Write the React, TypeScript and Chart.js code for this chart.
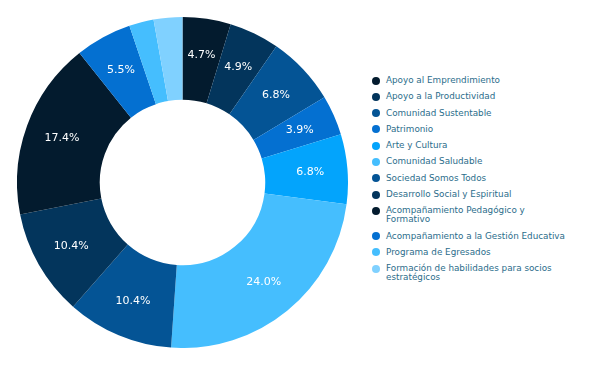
import React, { useEffect, useRef } from "react";
import { Chart, registerables } from "chart.js";

Chart.register(...registerables);

const categories: string[] = [
  "Apoyo al Emprendimiento",
  "Apoyo a la Productividad",
  "Comunidad Sustentable",
  "Patrimonio",
  "Arte y Cultura",
  "Comunidad Saludable",
  "Sociedad Somos Todos",
  "Desarrollo Social y Espiritual",
  "Acompañamiento Pedagógico y\nFormativo",
  "Acompañamiento a la Gestión Educativa",
  "Programa de Egresados",
  "Formación de habilidades para socios\nestratégicos",
];

const values: number[] = [4.7, 4.9, 6.8, 3.9, 6.8, 24.0, 10.4, 10.4, 17.4, 5.5, 2.4, 2.8];

const colors: string[] = [
  "#031b2e",
  "#03355c",
  "#045495",
  "#0470d1",
  "#03a4fc",
  "#45befe",
  "#045495",
  "#03355c",
  "#031b2e",
  "#0470d1",
  "#45befe",
  "#80d1ff",
];

const FONT = "'DejaVu Sans', Verdana, sans-serif";

const sliceLabels = {
  id: "sliceLabels",
  afterDatasetsDraw(chart: any) {
    const ctx = chart.ctx as CanvasRenderingContext2D;
    const meta = chart.getDatasetMeta(0);
    const data = chart.data.datasets[0].data as number[];
    const total = data.reduce((a, b) => a + b, 0);
    ctx.save();
    ctx.font = `11px ${FONT}`;
    ctx.fillStyle = "#ffffff";
    ctx.textAlign = "center";
    ctx.textBaseline = "middle";
    meta.data.forEach((arc: any, i: number) => {
      const p = arc.getProps(["x", "y", "startAngle", "endAngle", "innerRadius", "outerRadius"], true);
      const pct = (data[i] / total) * 100;
      if (pct < 3) return;
      const mid = (p.startAngle + p.endAngle) / 2;
      const r = p.innerRadius + (p.outerRadius - p.innerRadius) * 0.55;
      ctx.fillText(pct.toFixed(1) + "%", p.x + Math.cos(mid) * r, p.y + Math.sin(mid) * r);
    });
    ctx.restore();
  },
};

export default function App() {
  const ref = useRef<HTMLCanvasElement | null>(null);

  useEffect(() => {
    if (!ref.current) return;
    const chart = new Chart(ref.current, {
      type: "doughnut",
      data: {
        labels: categories.map((c) => c.replace("\n", " ")),
        datasets: [
          {
            data: values,
            backgroundColor: colors,
            borderWidth: 0,
            hoverOffset: 0,
          },
        ],
      },
      options: {
        responsive: false,
        maintainAspectRatio: false,
        animation: false,
        cutout: "50%",
        layout: { padding: 0 },
        plugins: {
          legend: { display: false },
          tooltip: { enabled: true },
        },
      },
      plugins: [sliceLabels],
    });
    return () => chart.destroy();
  }, []);

  return (
    <div
      style={{
        position: "absolute",
        left: 0,
        top: 0,
        width: 589,
        height: 367,
        background: "#ffffff",
        overflow: "hidden",
      }}
    >
      <canvas
        ref={ref}
        width={331}
        height={331}
        style={{ position: "absolute", left: 17, top: 17, width: 331, height: 331 }}
      />
      <div style={{ position: "absolute", left: 372, top: 76 }}>
        {categories.map((c, i) => (
          <div
            key={i}
            style={{
              display: "flex",
              alignItems: "flex-start",
              marginBottom: 7.3,
            }}
          >
            <span
              style={{
                width: 8,
                height: 8,
                borderRadius: "50%",
                background: colors[i],
                marginTop: 0.5,
                flex: "0 0 auto",
              }}
            />
            <span
              style={{
                marginLeft: 6,
                fontFamily: FONT,
                fontSize: 8.8,
                lineHeight: "9px",
                color: "#2b6d8b",
                whiteSpace: "pre-line",
              }}
            >
              {c}
            </span>
          </div>
        ))}
      </div>
    </div>
  );
}
